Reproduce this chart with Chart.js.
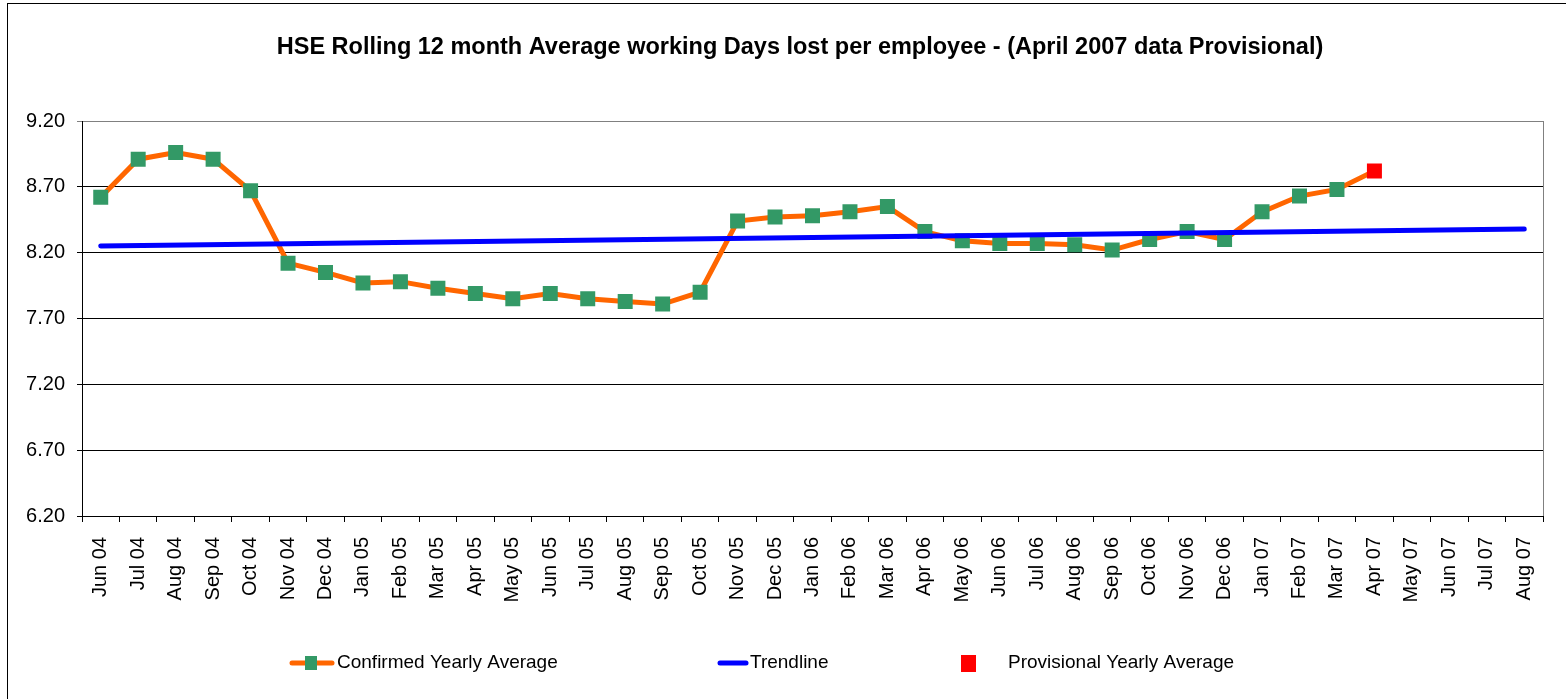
<!DOCTYPE html>
<html>
<head>
<meta charset="utf-8">
<script src="https://cdn.jsdelivr.net/npm/chart.js@4.4.1/dist/chart.umd.min.js"></script>
<style>
  html, body { margin: 0; padding: 0; background: #fff; }
  #wrap { position: relative; width: 1566px; height: 699px; overflow: hidden; }
  #frame { position: absolute; left: 7px; top: 3px; right: -2px; bottom: -2px; border-left: 1px solid #000; border-top: 1px solid #000; }
  #chart { position: absolute; left: 0; top: 0; }
</style>
</head>
<body>
<div id="wrap">
  <div id="frame"></div>
  <canvas id="chart" width="1566" height="699"></canvas>
</div>
<script>
// chart data
const months = ['Jun 04', 'Jul 04', 'Aug 04', 'Sep 04', 'Oct 04', 'Nov 04', 'Dec 04',
  'Jan 05', 'Feb 05', 'Mar 05', 'Apr 05', 'May 05', 'Jun 05', 'Jul 05', 'Aug 05', 'Sep 05', 'Oct 05', 'Nov 05', 'Dec 05',
  'Jan 06', 'Feb 06', 'Mar 06', 'Apr 06', 'May 06', 'Jun 06', 'Jul 06', 'Aug 06', 'Sep 06', 'Oct 06', 'Nov 06', 'Dec 06',
  'Jan 07', 'Feb 07', 'Mar 07', 'Apr 07', 'May 07', 'Jun 07', 'Jul 07', 'Aug 07'];

// Jun 04 .. Mar 07
const confirmed = [8.62, 8.91, 8.96, 8.91, 8.67, 8.12, 8.05,
  7.97, 7.98, 7.93, 7.89, 7.85, 7.89, 7.85, 7.83, 7.81, 7.90, 8.44, 8.47,
  8.48, 8.51, 8.55, 8.36, 8.29, 8.27, 8.27, 8.26, 8.22, 8.30, 8.36, 8.30,
  8.51, 8.63, 8.68];

const provisionalMonth = 'Apr 07';
const provisionalValue = 8.82;

// trendline end values (first and last month)
const trendStart = 8.25;
const trendEnd = 8.38;

const yTicks = [6.20, 6.70, 7.20, 7.70, 8.20, 8.70, 9.20];

const titleText = 'HSE Rolling 12 month Average working Days lost per employee - (April 2007 data Provisional)';
const legendLabels = ['Confirmed Yearly Average', 'Trendline', 'Provisional Yearly Average'];

const ORANGE = '#FF6600';
const GREEN = '#339966';
const BLUE = '#0000FF';
const RED = '#FF0000';
const FONT = '"Liberation Sans", Arial, sans-serif';

Chart.defaults.font.family = FONT;
Chart.defaults.color = '#000';

// build series aligned to months
const provIdx = months.indexOf(provisionalMonth);
const confirmedLine = months.map((m, i) => i < confirmed.length ? confirmed[i] : (i === provIdx ? provisionalValue : null));
const provisional = months.map((m, i) => i === provIdx ? provisionalValue : null);
const trend = months.map((m, i) => i === 0 ? trendStart : (i === months.length - 1 ? trendEnd : null));

const decorPlugin = {
  id: 'decor',
  afterDraw(chart) {
    const ctx = chart.ctx;
    const area = chart.chartArea;
    ctx.save();

    // right border of plot
    ctx.strokeStyle = '#808080';
    ctx.lineWidth = 1;
    ctx.beginPath();
    ctx.moveTo(area.right + 0.5, area.top);
    ctx.lineTo(area.right + 0.5, area.bottom);
    ctx.stroke();

    // title
    ctx.fillStyle = '#000';
    ctx.font = 'bold 23.5px ' + FONT;
    ctx.textAlign = 'center';
    ctx.textBaseline = 'middle';
    ctx.fillText(titleText, 800, 48);

    // legend
    const ly = 663;
    ctx.font = '19px ' + FONT;
    ctx.textAlign = 'left';
    ctx.lineCap = 'round';

    ctx.strokeStyle = ORANGE;
    ctx.lineWidth = 5;
    ctx.beginPath();
    ctx.moveTo(292, ly);
    ctx.lineTo(332, ly);
    ctx.stroke();
    ctx.fillStyle = GREEN;
    ctx.fillRect(305, ly - 7, 12, 14);
    ctx.fillStyle = '#000';
    ctx.fillText(legendLabels[0], 337, ly);

    ctx.strokeStyle = BLUE;
    ctx.beginPath();
    ctx.moveTo(720, ly);
    ctx.lineTo(746, ly);
    ctx.stroke();
    ctx.fillStyle = '#000';
    ctx.fillText(legendLabels[1], 750, ly);

    ctx.fillStyle = RED;
    ctx.fillRect(961, ly - 8, 15, 17);
    ctx.fillStyle = '#000';
    ctx.fillText(legendLabels[2], 1008, ly);

    ctx.restore();
  }
};

new Chart(document.getElementById('chart'), {
  type: 'line',
  data: {
    labels: months,
    datasets: [
      {
        label: legendLabels[1],
        data: trend,
        borderColor: BLUE,
        borderWidth: 5,
        borderCapStyle: 'round',
        pointRadius: 0,
        spanGaps: true
      },
      {
        label: legendLabels[2],
        data: provisional,
        showLine: false,
        pointStyle: 'rect',
        pointRadius: 10.6,
        pointBackgroundColor: RED,
        pointBorderWidth: 0
      },
      {
        label: legendLabels[0],
        data: confirmedLine,
        borderColor: ORANGE,
        borderWidth: 5,
        pointStyle: 'rect',
        pointRadius: ctx => ctx.dataIndex < confirmed.length ? 10.6 : 0,
        pointBackgroundColor: GREEN,
        pointBorderWidth: 0,
        tension: 0
      }
    ]
  },
  options: {
    responsive: false,
    animation: false,
    events: [],
    layout: { padding: { top: 121, right: 23, left: 0, bottom: 0 } },
    plugins: {
      legend: { display: false },
      title: { display: false },
      tooltip: { enabled: false }
    },
    scales: {
      x: {
        offset: true,
        grid: { offset: true, drawOnChartArea: false, tickLength: 6, color: '#000' },
        border: { color: '#000', width: 1 },
        ticks: { autoSkip: false, maxRotation: 90, minRotation: 90, padding: 15, font: { size: 20 }, color: '#000' },
        afterFit: s => { s.height = 183; }
      },
      y: {
        min: 6.2,
        max: 9.2,
        afterBuildTicks: s => { s.ticks = yTicks.map(v => ({ value: v })); },
        afterFit: s => { s.width = 82; },
        ticks: { callback: v => Number(v).toFixed(2), font: { size: 20 }, color: '#000', padding: 12 },
        grid: {
          color: c => (c.tick && c.tick.value === 9.2) ? '#808080' : '#000',
          tickLength: 5,
          lineWidth: 1
        },
        border: { color: '#000', width: 1 }
      }
    }
  },
  plugins: [decorPlugin]
});
</script>
</body>
</html>
